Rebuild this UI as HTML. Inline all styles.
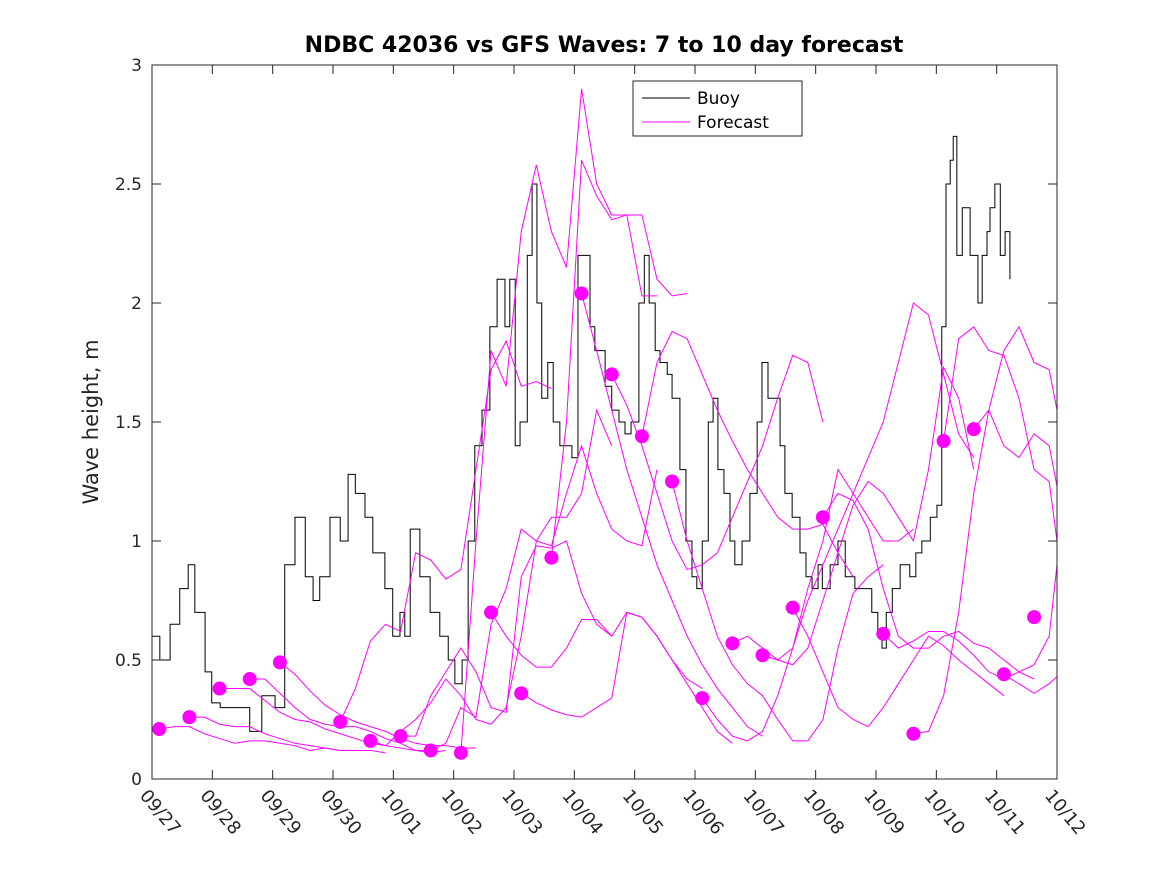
<!DOCTYPE html>
<html><head><meta charset="utf-8"><style>body{margin:0;background:#fff}svg{display:block;font-family:"DejaVu Sans","Liberation Sans",sans-serif}</style></head>
<body>
<svg id="chart" width="1167" height="875" viewBox="0 0 1167 875">
<rect width="1167" height="875" fill="#fff"/>
<text x="604" y="52" text-anchor="middle" font-weight="bold" font-size="22">NDBC 42036 vs GFS Waves: 7 to 10 day forecast</text>
<text transform="translate(98,422) rotate(-90)" text-anchor="middle" font-size="21" fill="#262626">Wave height, m</text>
<g id="plot"></g>
<g id="axes"></g>
<g>
<rect x="633" y="81" width="169" height="55" fill="#fff" stroke="#262626" stroke-width="1"/>
<line x1="642" y1="98" x2="690" y2="98" stroke="#000"/>
<text x="697" y="104" font-size="17">Buoy</text>
<line x1="642" y1="122" x2="690" y2="122" stroke="#ff00ff"/>
<text x="697" y="128" font-size="17">Forecast</text>
</g>
</svg>
<script>
const dayLabels=["09/27","09/28","09/29","09/30","10/01","10/02","10/03","10/04","10/05","10/06","10/07","10/08","10/09","10/10","10/11","10/12"];
const yTicks=[0,0.5,1,1.5,2,2.5,3];
const yTickLabels=["0","0.5","1","1.5","2","2.5","3"];
const buoyDays=[0.00,0.13,0.30,0.46,0.60,0.71,0.88,0.99,1.13,1.46,1.62,1.82,2.04,2.20,2.37,2.54,2.67,2.78,2.95,3.12,3.25,3.37,3.53,3.66,3.86,3.99,4.11,4.19,4.28,4.44,4.61,4.77,4.91,5.02,5.14,5.24,5.35,5.47,5.60,5.72,5.85,5.93,6.02,6.10,6.22,6.30,6.38,6.46,6.56,6.65,6.76,6.88,6.96,7.06,7.18,7.26,7.34,7.51,7.62,7.74,7.84,7.94,8.07,8.16,8.24,8.34,8.42,8.54,8.62,8.75,8.85,8.95,9.03,9.12,9.22,9.30,9.38,9.48,9.58,9.66,9.78,9.91,10.03,10.11,10.21,10.33,10.41,10.49,10.61,10.74,10.84,10.94,11.04,11.11,11.24,11.37,11.49,11.65,11.82,11.93,12.03,12.10,12.17,12.27,12.40,12.56,12.66,12.76,12.90,13.01,13.09,13.16,13.23,13.28,13.34,13.43,13.56,13.69,13.76,13.84,13.89,13.97,14.06,14.14,14.22];
const buoyValues=[0.6,0.5,0.65,0.8,0.9,0.7,0.45,0.32,0.3,0.3,0.2,0.35,0.3,0.9,1.1,0.85,0.75,0.85,1.1,1.0,1.28,1.2,1.1,0.95,0.8,0.6,0.7,0.6,1.05,0.85,0.7,0.6,0.5,0.4,0.5,1.0,1.4,1.55,1.9,2.1,1.9,2.1,1.4,1.5,2.2,2.5,2.0,1.6,1.75,1.5,1.4,1.4,1.35,2.2,2.2,1.9,1.8,1.65,1.55,1.5,1.45,1.5,2.0,2.2,2.0,1.8,1.75,1.7,1.6,1.3,1.0,0.85,0.8,1.0,1.5,1.6,1.3,1.2,1.0,0.9,1.0,1.2,1.5,1.75,1.6,1.6,1.4,1.2,1.1,0.95,0.85,0.8,0.9,0.8,0.9,1.0,0.85,0.8,0.8,0.7,0.6,0.55,0.7,0.8,0.9,0.85,0.95,1.0,1.1,1.15,1.9,2.5,2.6,2.7,2.2,2.4,2.2,2.0,2.2,2.3,2.4,2.5,2.2,2.3,2.1];
const dotDays=[0.12,0.62,1.12,1.62,2.12,3.12,3.62,4.12,4.62,5.12,5.62,6.12,6.62,7.12,7.62,8.12,8.62,9.12,9.62,10.12,10.62,11.12,12.12,12.62,13.12,13.62,14.12,14.62];
const dotValues=[0.21,0.26,0.38,0.42,0.49,0.24,0.16,0.18,0.12,0.11,0.70,0.36,0.93,2.04,1.70,1.44,1.25,0.34,0.57,0.52,0.72,1.10,0.61,0.19,1.42,1.47,0.44,0.68];
const fcStart=[0.12,0.62,1.12,1.62,2.12,3.12,3.62,4.12,4.62,5.12,5.62,6.12,6.62,7.12,7.62,8.12,8.62,9.12,9.62,10.12,10.62,11.12,12.12,12.62,13.12,13.62,14.12];
const fcStep=0.25;
const fc0=[0.21,0.22,0.22,0.19,0.17,0.15,0.16,0.16,0.15,0.14,0.12,0.13,0.12,0.12];
const fc1=[0.26,0.26,0.23,0.22,0.22,0.19,0.17,0.15,0.14,0.13,0.12,0.12,0.12,0.11];
const fc2=[0.38,0.38,0.38,0.33,0.28,0.25,0.24,0.21,0.19,0.17,0.15,0.14,0.13,0.12,0.12];
const fc3=[0.42,0.42,0.36,0.3,0.25,0.23,0.22,0.22,0.2,0.17,0.15,0.12,0.11,0.12];
const fc4=[0.49,0.44,0.37,0.31,0.27,0.24,0.22,0.2,0.17,0.15,0.14,0.14,0.13,0.13];
const fc5=[0.24,0.38,0.58,0.65,0.62,0.95,0.92,0.84,0.88,1.3,1.72,1.84,1.65,1.67,1.64];
const fc6=[0.16,0.14,0.2,0.25,0.32,0.42,0.35,0.25,0.23,0.3,0.6,1.0,1.1,1.1,1.2,1.55,1.4];
const fc7=[0.18,0.18,0.35,0.45,0.55,0.45,0.3,0.28,0.85,0.98,0.97,1.0,0.78,0.65,0.6];
const fc8=[0.12,0.15,0.3,0.26,0.65,0.8,1.05,1.0,0.98,1.2,1.4,1.2,1.05,1.0,0.98,1.3];
const fc9=[0.11,1.0,1.8,1.65,2.3,2.58,2.3,2.15,2.9,2.5,2.37,2.37,2.03,2.03];
const fc10=[0.70,0.60,0.52,0.47,0.47,0.55,0.67,0.67,0.60,0.70,0.68,0.6,0.5,0.42,0.38];
const fc11=[0.36,0.32,0.29,0.27,0.26,0.3,0.34,0.7,0.68,0.6,0.5,0.4,0.3,0.2,0.15];
const fc12=[0.93,1.5,2.6,2.45,2.35,2.37,2.37,2.1,2.03,2.04];
const fc13=[2.04,1.8,1.55,1.3,1.1,0.9,0.75,0.6,0.48,0.38,0.3,0.22,0.18];
const fc14=[1.70,1.57,1.4,1.2,1.0,0.88,0.9,0.95,1.1,1.25,1.4,1.6,1.78,1.75,1.5];
const fc15=[1.44,1.75,1.88,1.85,1.7,1.55,1.42,1.3,1.2,1.1,1.05,1.05,1.07,0.95,0.85];
const fc16=[1.25,1.0,0.8,0.6,0.48,0.4,0.35,0.25,0.16,0.16,0.25,0.55,0.78,0.85,0.9];
const fc17=[0.34,0.25,0.18,0.16,0.2,0.35,0.55,0.8,1.0,1.3,1.2,1.1,1.0,1.0,1.05];
const fc18=[0.57,0.6,0.55,0.5,0.55,0.75,0.9,1.05,1.2,1.35,1.5,1.75,2.0,1.95,1.7,1.45,1.35];
const fc19=[0.52,0.5,0.48,0.55,0.75,0.95,1.15,1.25,1.2,1.1,1.0,1.3,1.73,1.6,1.3];
const fc20=[0.72,0.6,0.45,0.3,0.25,0.22,0.3,0.4,0.5,0.6,0.56,0.5,0.45,0.4,0.35];
const fc21=[1.10,1.2,1.17,1.05,0.8,0.6,0.55,0.55,0.6,0.62,0.57,0.55,0.5,0.45,0.42];
const fc22=[0.61,0.55,0.58,0.62,0.62,0.58,0.52,0.45,0.42,0.45,0.48,0.6,0.9,1.2,1.48,1.0,0.55];
const fc23=[0.19,0.2,0.35,0.7,1.2,1.55,1.8,1.9,1.75,1.72,1.55,1.6,1.72,1.72,1.4,1.2];
const fc24=[1.42,1.85,1.9,1.8,1.78,1.6,1.3,1.25,1.0,0.9,0.75,0.6];
const fc25=[1.47,1.55,1.4,1.35,1.45,1.4,1.23,1.2,1.22,1.3];
const fc26=[0.44,0.4,0.36,0.4,0.43,0.38,0.34];
const fcSeries=[fc0,fc1,fc2,fc3,fc4,fc5,fc6,fc7,fc8,fc9,fc10,fc11,fc12,fc13,fc14,fc15,fc16,fc17,fc18,fc19,fc20,fc21,fc22,fc23,fc24,fc25,fc26];

const X0=152,X1=1057,Y0=779,Y1=65,DMAX=15,VMAX=3;
const xs=d=>X0+(X1-X0)*d/DMAX;
const ys=v=>Y0-(Y0-Y1)*v/VMAX;
const NS="http://www.w3.org/2000/svg";
const plot=document.getElementById('plot'),axes=document.getElementById('axes');
function mk(tag,attrs,parent){const e=document.createElementNS(NS,tag);for(const k in attrs)e.setAttribute(k,attrs[k]);parent.appendChild(e);return e;}

let d="";
buoyDays.forEach((t,i)=>{const x=xs(t),y=ys(buoyValues[i]);if(i===0)d+="M"+x+","+y;else d+="H"+x+"V"+y;});
const bl=mk('path',{d:d,fill:"none",stroke:"#000","stroke-width":1},plot);



fcSeries.forEach((s,k)=>{
  const pts=s.map((v,i)=>xs(Math.min(DMAX,fcStart[k]+i*fcStep))+","+ys(v)).join(" ");
  const pl=mk('polyline',{points:pts,fill:"none",stroke:"#ff00ff","stroke-width":1},plot);
  
  
});
dotDays.forEach((t,i)=>{
  const c=mk('circle',{cx:xs(t),cy:ys(dotValues[i]),r:7,fill:"#ff00ff"},plot);
  
  
});

const box=mk('rect',{x:X0,y:Y1,width:X1-X0,height:Y0-Y1,fill:"none",stroke:"#262626","stroke-width":1},axes);


yTicks.forEach((v,i)=>{
  const y=ys(v);
  mk('line',{x1:X0,y1:y,x2:X0+9,y2:y,stroke:"#262626"},axes);
  mk('line',{x1:X1,y1:y,x2:X1-9,y2:y,stroke:"#262626"},axes);
  const t=mk('text',{x:X0-10,y:y+6,"text-anchor":"end","font-size":17,fill:"#262626"},axes);
  t.textContent=yTickLabels[i];
  
  
});
dayLabels.forEach((lab,i)=>{
  const x=xs(i);
  mk('line',{x1:x,y1:Y0,x2:x,y2:Y0-9,stroke:"#262626"},axes);
  mk('line',{x1:x,y1:Y1,x2:x,y2:Y1+9,stroke:"#262626"},axes);
  const t=mk('text',{x:0,y:0,"font-size":18,fill:"#262626",transform:"translate("+(x-13)+",796) rotate(50)"},axes);
  t.textContent=lab;
  
  
});
</script>
</body></html>
